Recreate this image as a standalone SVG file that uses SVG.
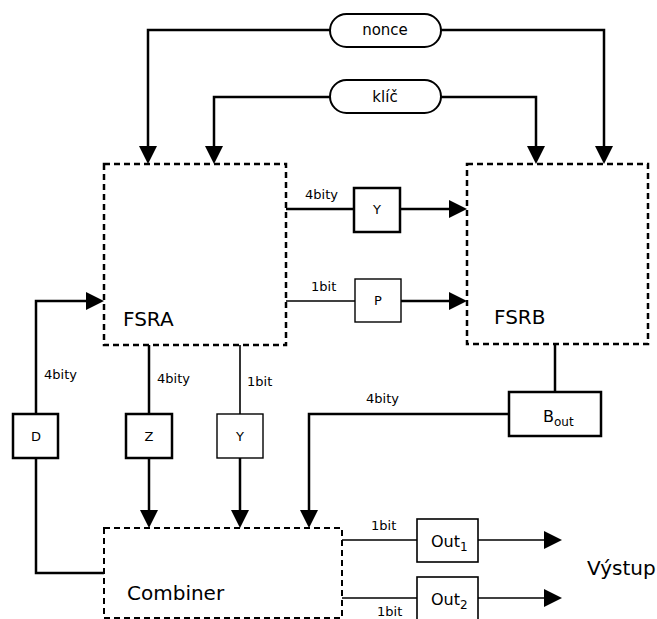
<svg xmlns="http://www.w3.org/2000/svg" width="657" height="619" viewBox="0 0 657 619">
  <style>
    text { font-family: "DejaVu Sans", "Liberation Sans", sans-serif; fill: #000; }
    .lbl { font-size: 13px; }
    .box-txt { font-size: 13px; text-anchor: middle; }
    .big { font-size: 20px; }
    .sig { font-size: 16px; }
    .sub { font-size: 12px; }
    .pill-txt { font-size: 15px; text-anchor: middle; }
    .block { fill: none; stroke: #000; stroke-width: 2.5; stroke-dasharray: 6 4; }
    .reg { fill: #fff; stroke: #000; stroke-width: 2.5; }
    .reg-thin { fill: #fff; stroke: #000; stroke-width: 1.4; }
    .pill { fill: #fff; stroke: #000; stroke-width: 2; }
    .wire { fill: none; stroke: #000; stroke-width: 2.5; }
    .wire-thin { fill: none; stroke: #000; stroke-width: 1.6; }
    .arrow { marker-end: url(#head); }
  </style>
  <defs>
    <marker id="head" markerUnits="userSpaceOnUse" markerWidth="18" markerHeight="18" refX="1" refY="9" orient="auto">
      <path d="M0,0 L18,9 L0,18 Z" fill="#000"/>
    </marker>
  </defs>

  <!-- connectors -->
  <g id="connectors">
    <path class="wire arrow" d="M330,30 H148 V147"/>
    <path class="wire arrow" d="M441,30 H604 V147"/>
    <path class="wire arrow" d="M330,97 H214 V147"/>
    <path class="wire arrow" d="M441,97 H536 V147"/>

    <path class="wire" d="M286,209 H354"/>
    <path class="wire arrow" d="M400,209 H450"/>
    <path class="wire-thin" d="M286,301 H355"/>
    <path class="wire arrow" d="M401,301 H450"/>

    <path class="wire arrow" d="M36,414 V301 H87"/>
    <path class="wire" d="M36,458 V573 H104"/>

    <path class="wire" d="M149,345 V414"/>
    <path class="wire arrow" d="M149,458 V511"/>
    <path class="wire-thin" d="M240,345 V414"/>
    <path class="wire arrow" d="M240,458 V511"/>

    <path class="wire" d="M555,344 V392"/>
    <path class="wire arrow" d="M509,414 H309 V511"/>

    <path class="wire-thin" d="M342,540 H417"/>
    <path class="wire-thin arrow" d="M478,540 H545"/>
    <path class="wire-thin" d="M342,598 H417"/>
    <path class="wire-thin arrow" d="M478,598 H545"/>
  </g>

  <!-- wire width labels -->
  <g id="labels">
    <text class="lbl" x="305" y="199">4bity</text>
    <text class="lbl" x="311" y="291">1bit</text>
    <text class="lbl" x="44" y="379">4bity</text>
    <text class="lbl" x="157" y="383">4bity</text>
    <text class="lbl" x="247" y="386">1bit</text>
    <text class="lbl" x="366" y="403">4bity</text>
    <text class="lbl" x="371" y="530">1bit</text>
    <text class="lbl" x="377" y="616">1bit</text>
    <text class="big" x="587" y="575">Výstup</text>
  </g>

  <g id="nonce">
    <rect class="pill" x="330" y="14" width="111" height="33" rx="16.5"/>
    <text class="pill-txt" x="385" y="35">nonce</text>
  </g>
  <g id="klic">
    <rect class="pill" x="330" y="80" width="111" height="33" rx="16.5"/>
    <text class="pill-txt" x="385" y="102">klíč</text>
  </g>

  <g id="fsra">
    <rect class="block" x="104" y="164" width="182" height="181"/>
    <text class="big" x="123" y="326">FSRA</text>
  </g>
  <g id="fsrb">
    <rect class="block" x="467" y="164" width="181" height="180"/>
    <text class="big" x="494" y="324">FSRB</text>
  </g>
  <g id="combiner">
    <rect class="block" x="104" y="528" width="238" height="90" style="stroke-width:2"/>
    <text class="big" x="127" y="600">Combiner</text>
  </g>

  <g id="reg-y-top">
    <rect class="reg" x="354" y="188" width="46" height="44"/>
    <text class="box-txt" x="377" y="214">Y</text>
  </g>
  <g id="reg-p">
    <rect class="reg-thin" x="355" y="279" width="46" height="43"/>
    <text class="box-txt" x="378" y="305">P</text>
  </g>
  <g id="reg-d">
    <rect class="reg" x="13" y="414" width="45" height="44"/>
    <text class="box-txt" x="36" y="441">D</text>
  </g>
  <g id="reg-z">
    <rect class="reg" x="126" y="414" width="46" height="44"/>
    <text class="box-txt" x="149" y="441">Z</text>
  </g>
  <g id="reg-y-low">
    <rect class="reg-thin" x="217" y="414" width="46" height="44"/>
    <text class="box-txt" x="240" y="441">Y</text>
  </g>
  <g id="b-out">
    <rect class="reg" x="509" y="392" width="92" height="44"/>
    <text class="sig" x="543" y="422">B<tspan class="sub" dy="4">out</tspan></text>
  </g>
  <g id="out1">
    <rect class="reg-thin" x="417" y="519" width="61" height="43" style="stroke-width:1.6"/>
    <text class="sig" x="431" y="547">Out<tspan class="sub" dy="4">1</tspan></text>
  </g>
  <g id="out2">
    <rect class="reg-thin" x="417" y="577" width="61" height="46" style="stroke-width:1.6"/>
    <text class="sig" x="431" y="605">Out<tspan class="sub" dy="4">2</tspan></text>
  </g>
</svg>
